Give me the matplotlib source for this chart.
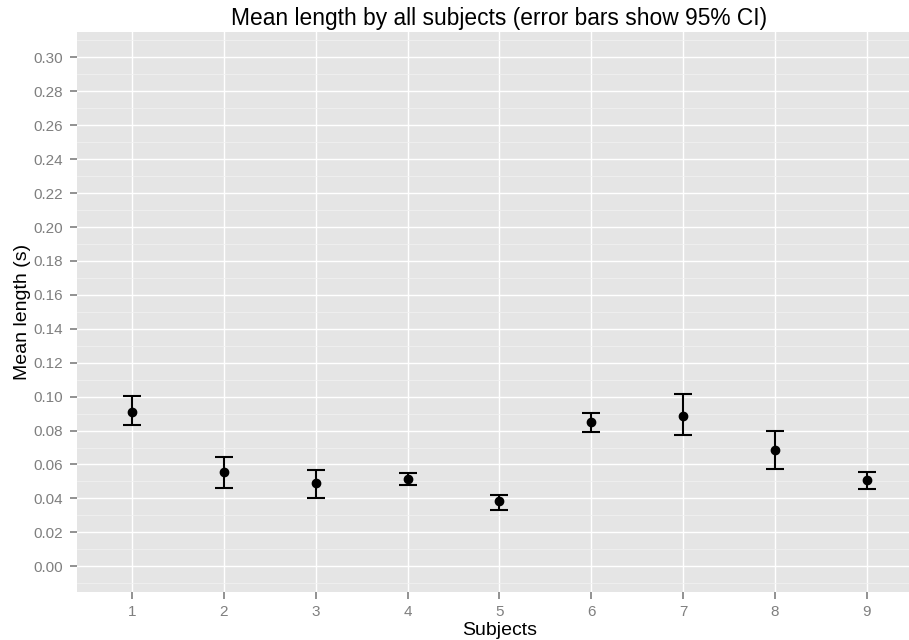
import numpy as np
import matplotlib
matplotlib.use("Agg")
import matplotlib.pyplot as plt
from matplotlib.ticker import FormatStrFormatter

subjects = [1, 2, 3, 4, 5, 6, 7, 8, 9]
mean_length = [0.0907, 0.0553, 0.0490, 0.0516, 0.0384, 0.0852, 0.0885, 0.0683, 0.0506]
ci_low = [0.0830, 0.0463, 0.0404, 0.0478, 0.0334, 0.0791, 0.0775, 0.0575, 0.0453]
ci_high = [0.1001, 0.0647, 0.0569, 0.0551, 0.0423, 0.0905, 0.1017, 0.0797, 0.0555]

plt.rcParams['font.family'] = ['Liberation Sans', 'DejaVu Sans']

fig = plt.figure(figsize=(9.09, 6.4), dpi=100)
# panel runs a little past the right edge of the figure
ax = fig.add_axes([77 / 909, 48.3 / 640, 844.9 / 909, 559.7 / 640])
ax.set_facecolor('#E5E5E5')
for s in ax.spines.values():
    s.set_visible(False)

mean = np.array(mean_length)
yerr = [mean - np.array(ci_low), np.array(ci_high) - mean]
ax.errorbar(subjects, mean, yerr=yerr, fmt='o', color='black', ms=6,
            elinewidth=1.5, capsize=6.5, capthick=1.5, zorder=3)

ax.set_xlim(0.4, 9.6)
ax.set_ylim(-0.015, 0.315)
ax.set_xticks(subjects)
ax.set_xticklabels([str(s) for s in subjects])
ax.set_yticks(np.arange(0, 0.301, 0.02))
ax.set_yticks(np.arange(-0.01, 0.315, 0.02), minor=True)
ax.yaxis.set_major_formatter(FormatStrFormatter('%.2f'))

ax.grid(which='major', color='white', lw=1.0)
ax.grid(which='minor', axis='y', color='#F2F2F2', lw=0.5)
ax.set_axisbelow(True)

ax.tick_params(which='major', colors='#7F7F7F', length=5, width=1.2,
               labelsize=11)
ax.tick_params(axis='x', pad=4.5)
ax.tick_params(axis='y', pad=5)
ax.tick_params(which='minor', length=0)

ax.set_xlabel('Subjects', fontsize=14)
ax.set_ylabel('Mean length (s)', fontsize=14)
ax.xaxis.set_label_coords(0.5, -0.055)
ax.yaxis.set_label_coords(-0.055, 0.5)
ax.set_title('Mean length by all subjects (error bars show 95% CI)',
             fontsize=16.4, pad=5)

fig.savefig('out.png', dpi=100)
